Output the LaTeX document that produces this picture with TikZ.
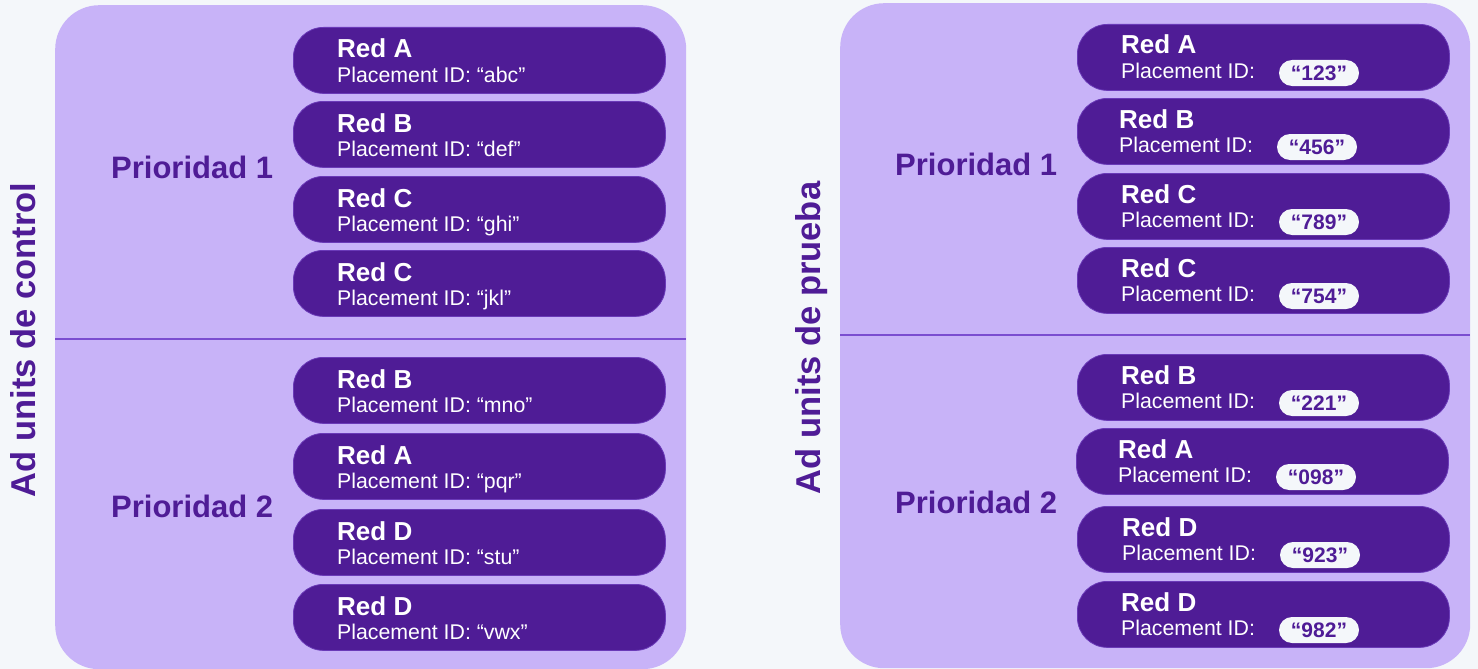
\documentclass[tikz,border=0pt]{standalone}
\usepackage{fontspec}
\setmainfont{Liberation Sans}
\definecolor{bg}{HTML}{F4F7FA}
\definecolor{panelfill}{HTML}{C8B3F8}
\definecolor{pillfill}{HTML}{4F1C96}
\definecolor{pilledge}{HTML}{6A3AB8}
\definecolor{rulecol}{HTML}{7B4DD0}
\definecolor{ink}{HTML}{4F1C96}

\begin{document}
\begin{tikzpicture}[x=1pt,y=-1pt,
  panelbox/.style={fill=panelfill, draw=none, rounded corners=44pt,
    anchor=north west, inner sep=0pt},
  pillbox/.style={fill=pillfill, draw=pilledge, line width=0.8pt,
    rounded corners=30pt, anchor=north west, inner sep=0pt,
    minimum width=372pt, minimum height=66pt},
  nettxt/.style={text=white, font=\bfseries\fontsize{26}{29}\selectfont,
    anchor=base west, inner sep=0pt},
  idtxt/.style={text=white, font=\fontsize{21.3}{24}\selectfont,
    anchor=base west, inner sep=0pt},
  badge/.style={fill=bg, rounded corners=13pt, minimum width=80pt,
    minimum height=26pt, inner sep=0pt, text=ink,
    font=\bfseries\fontsize{21}{24}\selectfont},
  prio/.style={text=ink, font=\bfseries\fontsize{31}{35}\selectfont,
    anchor=base west, inner sep=0pt},
  side/.style={text=ink, font=\bfseries\fontsize{34.5}{39}\selectfont,
    rotate=90, anchor=base, inner sep=0pt, draw=none},
  divider/.style={draw=rulecol, line width=2.6pt}]

\useasboundingbox (0,0) rectangle (1478,669);
\fill[bg] (0,0) rectangle (1478,669);

% ---------- control ad units ----------
\node[panelbox, minimum width=631pt, minimum height=664pt] (ctl) at (55,5) {};
\coordinate (ctlL) at (55,339);
\coordinate (ctlR) at (686,339);
\draw[divider] (ctlL) -- (ctlR);
\node[side] (ctlside) at (35,340) {Ad units de control};
\node[prio] (ctlp1) at (111,178) {Prioridad 1};
\node[prio] (ctlp2) at (111,517) {Prioridad 2};

\foreach \t/\n/\id/\k in {27/A/abc/1, 101/B/def/2, 176/C/ghi/3, 250/C/jkl/4,
                          357/B/mno/5, 433/A/pqr/6, 509/D/stu/7, 584/D/vwx/8}{
  \node[pillbox] (cpill\k) at (293,\t) {};
  \node[nettxt] (cnet\k) at (337,\t+31) {Red \n};
  \node[idtxt] (cid\k) at (337,\t+55) {Placement ID: “\id”};
}

% ---------- test ad units ----------
\node[panelbox, minimum width=630pt, minimum height=665pt] (tst) at (840,3) {};
\coordinate (tstL) at (840,335);
\coordinate (tstR) at (1470,335);
\draw[divider] (tstL) -- (tstR);
\node[side] (tstside) at (820,338) {Ad units de prueba};
\node[prio] (tstp1) at (895,175) {Prioridad 1};
\node[prio] (tstp2) at (895,513) {Prioridad 2};

\foreach \t/\px/\d/\n/\id/\k in {24/1077/0/A/123/1, 98/1077/-2/B/456/2,
                                 173/1077/0/C/789/3, 247/1077/0/C/754/4,
                                 354/1077/0/B/221/5, 428/1076/-3/A/098/6,
                                 506/1077/1/D/923/7, 581/1077/0/D/982/8}{
  \node[pillbox] (tpill\k) at (\px,\t) {};
  \node[nettxt] (tnet\k) at (1121+\d,\t+30) {Red \n};
  \node[idtxt] (tid\k) at (1121+\d,\t+54) {Placement ID:};
  \node[badge] (tbadge\k) at (1319+\d,\t+49) {“\id”};
}
\end{tikzpicture}
\end{document}
